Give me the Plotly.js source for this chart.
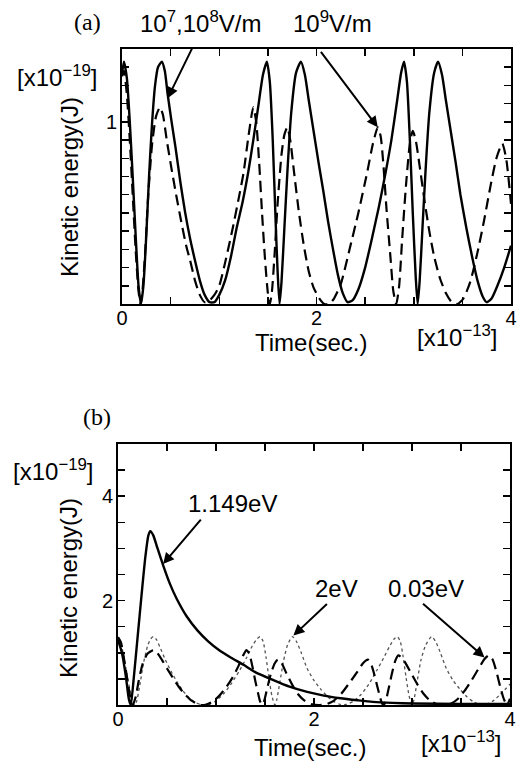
<!DOCTYPE html>
<html>
<head>
<meta charset="utf-8">
<script src="https://cdn.plot.ly/plotly-3.0.1.min.js"></script>
<style>html,body{margin:0;padding:0;background:#fff;}#chart{width:518px;height:762px;}</style>
</head>
<body>
<div id="chart"></div>
<script>
// ---------- Panel (a): kinetic energy [x1e-19 J] vs time [x1e-13 s] ----------
const tA_low = [0,0.02,0.05,0.08,0.11,0.14,0.17,0.195,0.22,0.25,0.28,0.31,0.34,0.37,0.41,0.44,0.47,0.51,0.55,0.6,0.65,0.7,0.75,0.8,0.85,0.9,0.95,1.0,1.06,1.12,1.18,1.24,1.3,1.35,1.4,1.45,1.49,1.52,1.55,1.58,1.6,1.62,1.64,1.67,1.7,1.74,1.79,1.84,1.88,1.92,1.97,2.02,2.07,2.12,2.17,2.22,2.27,2.32,2.37,2.43,2.5,2.57,2.64,2.71,2.77,2.83,2.87,2.9,2.93,2.96,2.99,3.02,3.04,3.06,3.09,3.12,3.16,3.21,3.25,3.29,3.33,3.38,3.43,3.48,3.54,3.6,3.66,3.71,3.75,3.8,3.86,3.93,4.0];
const eA_low = [1.26,1.33,1.24,1.0,0.7,0.38,0.1,0,0.1,0.38,0.72,1.0,1.2,1.3,1.33,1.28,1.15,1.0,0.86,0.67,0.5,0.36,0.24,0.13,0.05,0.01,0.01,0.05,0.13,0.26,0.42,0.56,0.73,0.9,1.08,1.26,1.33,1.22,0.9,0.45,0.18,0,0.12,0.42,0.72,1.05,1.27,1.33,1.26,1.12,0.95,0.78,0.62,0.45,0.3,0.16,0.06,0.01,0.02,0.08,0.2,0.36,0.53,0.72,0.9,1.12,1.27,1.33,1.22,0.9,0.5,0.15,0,0.12,0.42,0.72,1.05,1.27,1.33,1.26,1.12,0.95,0.78,0.6,0.42,0.26,0.12,0.04,0.01,0.03,0.1,0.2,0.32];

const tA_high = [0,0.02,0.05,0.08,0.11,0.14,0.17,0.19,0.21,0.24,0.27,0.31,0.35,0.39,0.42,0.46,0.51,0.56,0.61,0.66,0.7,0.75,0.8,0.85,0.9,0.95,1.0,1.07,1.14,1.2,1.25,1.3,1.35,1.38,1.41,1.44,1.47,1.5,1.52,1.54,1.57,1.6,1.64,1.67,1.7,1.73,1.77,1.82,1.87,1.92,1.97,2.03,2.08,2.13,2.18,2.25,2.34,2.43,2.52,2.58,2.63,2.66,2.69,2.72,2.76,2.79,2.82,2.85,2.88,2.92,2.96,2.99,3.02,3.06,3.11,3.16,3.21,3.27,3.33,3.39,3.45,3.51,3.58,3.65,3.72,3.79,3.85,3.91,3.95,4.0];
const eA_high = [1.25,1.28,1.15,0.9,0.6,0.3,0.07,0,0.07,0.3,0.6,0.88,1.03,1.08,1.04,0.9,0.74,0.59,0.45,0.32,0.24,0.13,0.05,0.01,0.02,0.05,0.1,0.25,0.42,0.58,0.72,0.92,1.08,1.0,0.78,0.5,0.25,0.06,0,0.06,0.28,0.55,0.82,0.93,0.97,0.9,0.72,0.5,0.32,0.18,0.09,0.03,0,0,0.03,0.11,0.3,0.5,0.72,0.88,0.97,0.92,0.75,0.52,0.26,0.07,0,0.1,0.35,0.65,0.88,0.95,0.9,0.76,0.57,0.4,0.26,0.14,0.06,0.01,0,0.03,0.12,0.27,0.45,0.65,0.8,0.88,0.8,0.55];

// ---------- Panel (b) ----------
const tB_1149 = [0,0.04,0.08,0.11,0.13,0.16,0.2,0.24,0.28,0.31,0.33,0.36,0.4,0.46,0.53,0.6,0.7,0.81,0.92,1.04,1.16,1.28,1.4,1.58,1.75,1.93,2.1,2.27,2.45,2.6,2.8,3.0,3.5,4.0];
const eB_1149 = [1.25,1.0,0.55,0.12,0,0.5,1.3,2.1,2.85,3.25,3.33,3.25,3.02,2.68,2.32,2.03,1.7,1.43,1.22,1.04,0.9,0.77,0.63,0.48,0.35,0.25,0.18,0.13,0.09,0.06,0.04,0.03,0.02,0.02];

const tB_2 = [0,0.03,0.06,0.09,0.12,0.15,0.17,0.19,0.22,0.26,0.3,0.33,0.36,0.39,0.43,0.48,0.54,0.6,0.66,0.72,0.78,0.84,0.88,0.93,1.0,1.08,1.16,1.24,1.31,1.37,1.42,1.45,1.48,1.51,1.54,1.57,1.6,1.62,1.65,1.69,1.73,1.78,1.82,1.87,1.93,2.0,2.07,2.14,2.2,2.27,2.33,2.4,2.48,2.56,2.64,2.71,2.77,2.82,2.85,2.88,2.91,2.94,2.97,3.0,3.02,3.05,3.09,3.14,3.2,3.24,3.29,3.35,3.42,3.49,3.56,3.62,3.69,3.75,3.82,3.9,4.0];
const eB_2 = [1.28,1.18,0.92,0.6,0.3,0.07,0,0.07,0.35,0.8,1.12,1.26,1.31,1.26,1.1,0.88,0.65,0.45,0.28,0.15,0.06,0.01,0,0.01,0.08,0.22,0.42,0.66,0.9,1.13,1.27,1.31,1.22,0.92,0.52,0.18,0,0.1,0.42,0.85,1.15,1.31,1.22,1.0,0.7,0.47,0.3,0.16,0.07,0.01,0.01,0.07,0.2,0.4,0.66,0.9,1.12,1.27,1.31,1.22,0.92,0.52,0.18,0,0.1,0.42,0.85,1.15,1.31,1.22,1.0,0.7,0.47,0.3,0.16,0.07,0.01,0.01,0.07,0.2,0.4];

const tB_003 = [0,0.03,0.06,0.09,0.12,0.15,0.18,0.21,0.25,0.3,0.36,0.4,0.45,0.5,0.56,0.62,0.68,0.74,0.8,0.85,0.9,0.96,1.03,1.1,1.17,1.23,1.28,1.31,1.34,1.37,1.4,1.43,1.45,1.47,1.49,1.52,1.56,1.6,1.63,1.67,1.72,1.78,1.84,1.9,1.97,2.05,2.12,2.2,2.28,2.36,2.44,2.5,2.55,2.58,2.61,2.64,2.67,2.69,2.71,2.73,2.76,2.8,2.83,2.86,2.9,2.95,3.0,3.06,3.12,3.18,3.25,3.33,3.4,3.47,3.54,3.61,3.68,3.74,3.78,3.82,3.86,3.9,3.94,3.97,4.0];
const eB_003 = [1.3,1.2,0.9,0.55,0.2,0,0.15,0.45,0.78,0.98,1.05,1.0,0.86,0.7,0.52,0.35,0.21,0.1,0.03,0,0.01,0.06,0.17,0.33,0.53,0.75,0.96,1.05,0.98,0.75,0.47,0.22,0.07,0,0.07,0.3,0.6,0.8,0.87,0.8,0.6,0.38,0.2,0.09,0.02,0,0.01,0.08,0.22,0.42,0.63,0.8,0.87,0.8,0.62,0.4,0.18,0.05,0,0.06,0.3,0.64,0.85,0.95,0.9,0.75,0.58,0.38,0.21,0.09,0.02,0,0.03,0.12,0.28,0.48,0.7,0.88,0.95,0.88,0.65,0.35,0.1,0,0.12];

// ---------- tick labels ----------
const xTickVals = [0,2,4];
const xTickText = ['0','2','4'];
const yATickVals = [1];
const yATickText = ['1'];
const yBTickVals = [2,4];
const yBTickText = ['2','4'];

const W = 518, H = 762;
const FONT = 'Liberation Sans, Arial, Helvetica, sans-serif';
const SERIF = 'Liberation Serif, Times New Roman, serif';
const px = v => v / W;
const py = v => 1 - v / H;

const solid = {color:'#000', width:2.4, shape:'spline', smoothing:0.6};
const dashed = {color:'#000', width:2.2, dash:'11px,6px', shape:'spline', smoothing:0.6};
const dotted = {color:'#555', width:1.3, dash:'dot', shape:'spline', smoothing:0.6};

const traces = [
  {x:tA_low, y:eA_low, xaxis:'x', yaxis:'y', mode:'lines', line:solid, name:'10^7,10^8 V/m'},
  {x:tA_high, y:eA_high, xaxis:'x', yaxis:'y', mode:'lines', line:dashed, name:'10^9 V/m'},
  {x:tB_2, y:eB_2, xaxis:'x2', yaxis:'y2', mode:'lines', line:dotted, name:'2eV'},
  {x:tB_003, y:eB_003, xaxis:'x2', yaxis:'y2', mode:'lines', line:dashed, name:'0.03eV'},
  {x:tB_1149, y:eB_1149, xaxis:'x2', yaxis:'y2', mode:'lines', line:solid, name:'1.149eV'}
];

function axisBase(minorStep){
  return {showline:true, linewidth:2, linecolor:'#000', mirror:'ticks', ticks:'inside',
    ticklen:7, tickwidth:1.5, tickcolor:'#000', showgrid:false, zeroline:false,
    tickmode:'array', tickfont:{family:FONT, size:20, color:'#000'}, fixedrange:true,
    minor:{dtick:minorStep, tick0:0, ticks:'inside', ticklen:7, tickwidth:1.5, tickcolor:'#000', showgrid:false}};
}

const layout = {
  width:W, height:H, margin:{l:0,r:0,t:0,b:0}, showlegend:false,
  paper_bgcolor:'#fff', plot_bgcolor:'#fff',
  xaxis:Object.assign(axisBase(0.5), {domain:[px(122), px(511)], anchor:'y', range:[0,4], tickvals:xTickVals, ticktext:xTickText, ticklabelstandoff:-5}),
  yaxis:Object.assign(axisBase(0.1), {domain:[py(304), py(49)], anchor:'x', range:[0,1.4], tickvals:yATickVals, ticktext:yATickText, ticklabelstandoff:-1}),
  xaxis2:Object.assign(axisBase(0.5), {domain:[px(118), px(510)], anchor:'y2', range:[0,4], tickvals:xTickVals, ticktext:xTickText, ticklabelstandoff:-5}),
  yaxis2:Object.assign(axisBase(0.5), {domain:[py(705), py(444)], anchor:'x2', range:[0,5], tickvals:yBTickVals, ticktext:yBTickText, ticklabelstandoff:-1})
};

function label(text, x, y, opts){
  return Object.assign({text:text, xref:'paper', yref:'paper', x:px(x), y:py(y), xanchor:'center', yanchor:'middle',
    showarrow:false, font:{family:FONT, size:24, color:'#000'}}, opts||{});
}
function arrow(xr, yr, x, y, ax, ay){
  return {text:'', xref:xr, yref:yr, x:x, y:y, ax:ax, ay:ay, showarrow:true, arrowhead:2, arrowsize:1.1, arrowwidth:2, arrowcolor:'#000'};
}

const annots = [
  label('(a)', 87, 22, {font:{family:SERIF, size:24, color:'#000'}}),
  label('10<sup>7</sup>,10<sup>8</sup>V/m', 200, 22),
  label('10<sup>9</sup>V/m', 332, 22),
  label('[x10<sup>−19</sup>]', 57, 76),
  label('Kinetic energy(J)', 70, 187, {textangle:-90}),
  label('Time(sec.)', 311, 342),
  label('[x10<sup>−13</sup>]', 457, 336),
  label('(b)', 97, 417, {font:{family:SERIF, size:24, color:'#000'}}),
  label('[x10<sup>−19</sup>]', 53, 470),
  label('Kinetic energy(J)', 68, 588, {textangle:-90}),
  label('1.149eV', 232, 503),
  label('2eV', 336, 588),
  label('0.03eV', 426, 588),
  label('Time(sec.)', 310, 747),
  label('[x10<sup>−13</sup>]', 461, 742),
  arrow('x','y', 0.47, 1.13, 25, -51),
  arrow('x','y', 2.63, 0.97, -58, -77),
  arrow('x2','y2', 0.46, 2.7, 39, -46),
  arrow('x2','y2', 1.79, 1.33, 35, -33),
  arrow('x2','y2', 3.74, 0.91, -63, -55)
];

Plotly.newPlot('chart', traces, layout, {displayModeBar:false, staticPlot:true}).then(function(gd){
  return Plotly.relayout(gd, {annotations: annots});
});
</script>
</body>
</html>
